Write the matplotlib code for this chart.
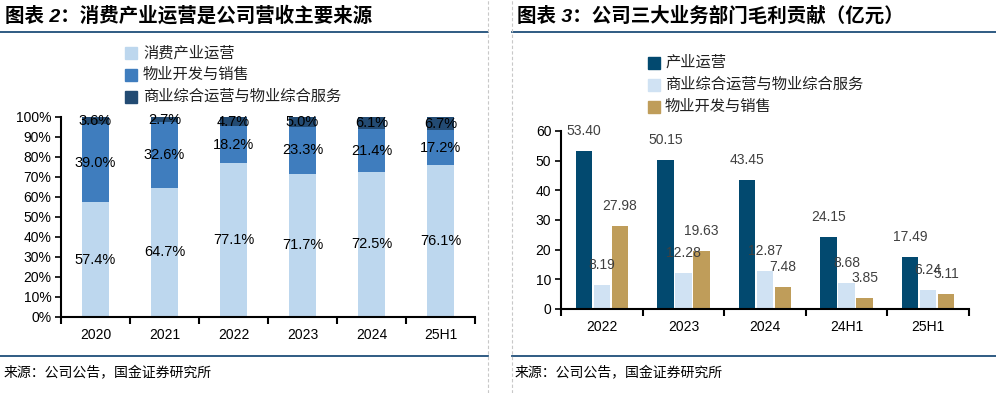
import matplotlib
matplotlib.use("Agg")
import matplotlib.pyplot as plt
from matplotlib.patches import Rectangle
from matplotlib.lines import Line2D

plt.rcParams['font.family'] = ['Liberation Sans', 'Noto Sans CJK SC', 'DejaVu Sans']

# left chart data: revenue share
years_l = ['2020', '2021', '2022', '2023', '2024', '25H1']
consumer = [57.4, 64.7, 77.1, 71.7, 72.5, 76.1]
property_dev = [39.0, 32.6, 18.2, 23.3, 21.4, 17.2]
commercial = [3.6, 2.7, 4.7, 5.0, 6.1, 6.7]
names_l = ['消费产业运营', '物业开发与销售', '商业综合运营与物业综合服务']

# right chart data: gross profit (亿元)
years_r = ['2022', '2023', '2024', '24H1', '25H1']
gp_industry = [53.40, 50.15, 43.45, 24.15, 17.49]
gp_commercial = [8.19, 12.28, 12.87, 8.68, 6.24]
gp_property = [27.98, 19.63, 7.48, 3.85, 5.11]
names_r = ['产业运营', '商业综合运营与物业综合服务', '物业开发与销售']

W, H = 996, 393
fig = plt.figure(figsize=(W / 100, H / 100), dpi=100)


def fx(x):
    return x / W


def fy(y):
    return 1 - y / H


def rect(x0, y0, x1, y1):
    # pixel box (top-left origin) -> axes rect
    return [fx(x0), fy(y1), fx(x1) - fx(x0), fy(y0) - fy(y1)]


line_c = '#1F4E79'
# frame lines
for xs in [(0, 488), (512, 996)]:
    for y in (32, 356):
        fig.add_artist(Line2D([fx(xs[0]), fx(xs[1])], [fy(y), fy(y)], color=line_c, lw=1.3))
for x in (488, 512):
    fig.add_artist(Line2D([fx(x), fx(x)], [0, 1], color='#C8C8C8', lw=0.8, ls=(0, (3, 2))))

# titles
fig.text(fx(5), fy(16), '图表 2：消费产业运营是公司营收主要来源', fontsize=14, fontweight='bold',
         fontstyle='italic', va='center', ha='left')
fig.text(fx(517), fy(16), '图表 3：公司三大业务部门毛利贡献（亿元）', fontsize=14, fontweight='bold',
         fontstyle='italic', va='center', ha='left')
for x in (4, 515):
    fig.text(fx(x), fy(373), '来源：公司公告，国金证券研究所', fontsize=10, va='center', ha='left')

# ---- left chart
cl = ['#BDD7EE', '#3F7DBE', '#234B73']
ax1 = fig.add_axes(rect(61, 117, 475, 317))
xl = range(len(years_l))
ax1.bar(xl, consumer, 0.4, color=cl[0])
ax1.bar(xl, property_dev, 0.4, bottom=consumer, color=cl[1])
bot3 = [a + b for a, b in zip(consumer, property_dev)]
ax1.bar(xl, commercial, 0.4, bottom=bot3, color=cl[2])
for i in xl:
    ax1.text(i, consumer[i] / 2, f'{consumer[i]:.1f}%', ha='center', va='center', fontsize=10.5)
    ax1.text(i, consumer[i] + property_dev[i] / 2, f'{property_dev[i]:.1f}%', ha='center', va='center', fontsize=10.5)
    ax1.text(i, bot3[i] + commercial[i] / 2, f'{commercial[i]:.1f}%', ha='center', va='center', fontsize=10.5)
ax1.set_xlim(-0.5, len(years_l) - 0.5)
ax1.set_ylim(0, 100)
ax1.set_yticks(range(0, 101, 10))
ax1.set_yticklabels([f'{v}%' for v in range(0, 101, 10)])
ax1.set_xticks(list(xl))
ax1.set_xticklabels(years_l)
ax1.set_xticks([i - 0.5 for i in range(len(years_l) + 1)], minor=True)

# ---- right chart
cr = ['#02496F', '#D0E2F3', '#BF9D5A']
ax2 = fig.add_axes(rect(561, 131, 969, 309))
xr = range(len(years_r))
off = 0.22
for k, (vals, c) in enumerate([(gp_industry, cr[0]), (gp_commercial, cr[1]), (gp_property, cr[2])]):
    pos = [i + (k - 1) * off for i in xr]
    ax2.bar(pos, vals, 0.2, color=c)
    for p, v in zip(pos, vals):
        ax2.annotate(f'{v:.2f}', (p, v), xytext=(0, 20), textcoords='offset pixels',
                     ha='center', va='center', fontsize=10, color='#404040')
ax2.set_xlim(-0.5, len(years_r) - 0.5)
ax2.set_ylim(0, 60)
ax2.set_yticks(range(0, 61, 10))
ax2.set_xticks(list(xr))
ax2.set_xticklabels(years_r)
ax2.set_xticks([i - 0.5 for i in range(len(years_r) + 1)], minor=True)

for ax in (ax1, ax2):
    for s in ('top', 'right'):
        ax.spines[s].set_visible(False)
    for s in ('left', 'bottom'):
        ax.spines[s].set_linewidth(1.5)
    ax.tick_params(axis='x', which='major', length=0, labelsize=10, pad=8)
    ax.tick_params(axis='x', which='minor', length=5, width=1.5, direction='out')
    ax.tick_params(axis='y', length=4, width=1.2, labelsize=10, pad=3)
    ax.set_facecolor('none')

# legends (manual)
for i, (n, c) in enumerate(zip(names_l, cl)):
    y = 53 + i * 22
    fig.add_artist(Rectangle((fx(125), fy(y + 6)), fx(12), 12 / H, color=c))
    fig.text(fx(143), fy(y), n, fontsize=11, va='center', ha='left', color='#202020')
for i, (n, c) in enumerate(zip(names_r, cr)):
    y = 63 + i * 22
    fig.add_artist(Rectangle((fx(648), fy(y + 6)), fx(12), 12 / H, color=c))
    fig.text(fx(665), fy(y), n, fontsize=11, va='center', ha='left', color='#202020')

fig.savefig('out.png', dpi=100)
